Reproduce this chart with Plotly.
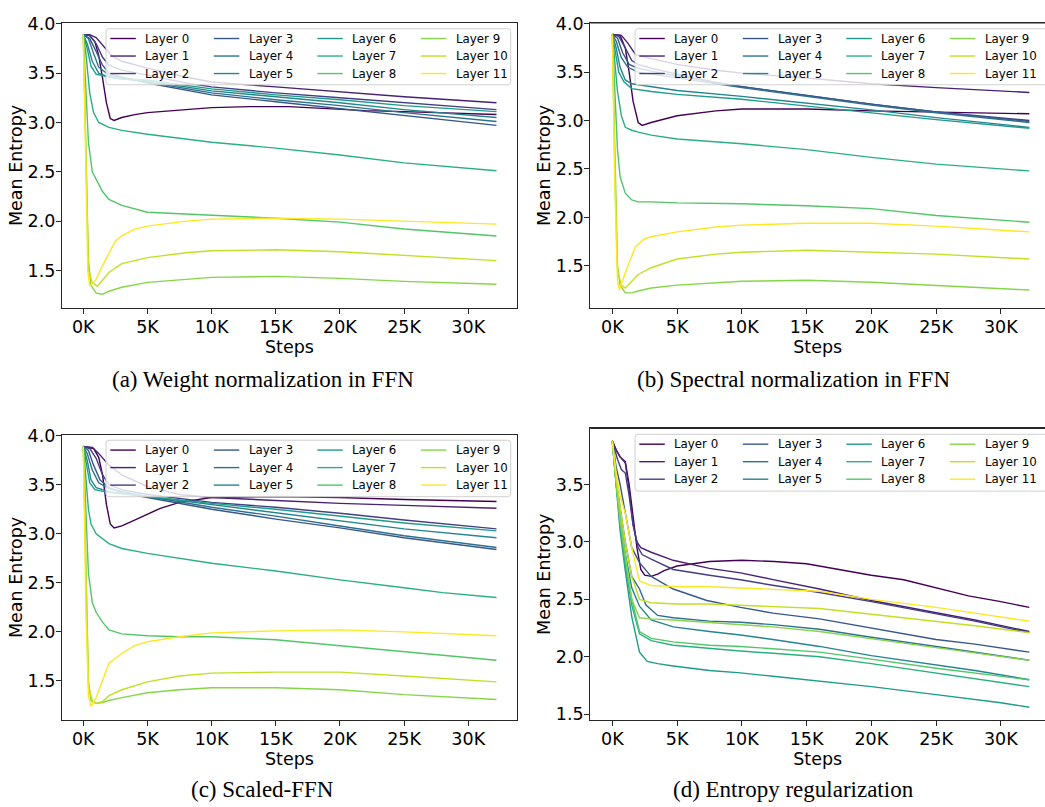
import plotly.graph_objects as go

# ---------------- data (steps in thousands, mean entropy) ----------------
LAYER_NAMES = [f"Layer {i}" for i in range(12)]
LAYER_COLORS = ['#440154', '#482173', '#433e85', '#38588c', '#2d708e', '#25858e',
                '#1e9b8a', '#2ab07f', '#52c569', '#86d549', '#c2df23', '#fde725']
CAPTIONS = ["(a) Weight normalization in FFN", "(b) Spectral normalization in FFN",
            "(c) Scaled-FFN", "(d) Entropy regularization"]
X_TICKS = [0, 5, 10, 15, 20, 25, 30]
X_TICK_TEXT = ["0K", "5K", "10K", "15K", "20K", "25K", "30K"]
Y_TICKS = [1.5, 2.0, 2.5, 3.0, 3.5, 4.0]

# (a) Weight normalization in FFN
a_L0 = [(0, 3.89), (0.5, 3.88), (0.9, 3.82), (1.2, 3.68), (1.5, 3.45), (1.8, 3.2), (2.1, 3.04), (2.4, 3.02), (3, 3.05), (4, 3.08), (5, 3.10), (7, 3.12), (10, 3.15), (13, 3.16), (16, 3.16), (19, 3.14), (22, 3.12), (25, 3.11), (28, 3.10), (32.2, 3.08)]
a_L1 = [(0, 3.89), (0.5, 3.89), (1, 3.86), (1.5, 3.78), (2.2, 3.68), (3, 3.62), (5, 3.55), (8, 3.46), (10, 3.41), (15, 3.36), (20, 3.31), (25, 3.26), (32.2, 3.20)]
a_L2 = [(0, 3.89), (0.5, 3.88), (1, 3.8), (1.5, 3.66), (2, 3.58), (3, 3.53), (5, 3.48), (8, 3.40), (10, 3.36), (15, 3.30), (20, 3.25), (25, 3.20), (32.2, 3.13)]
a_L3 = [(0, 3.89), (0.5, 3.85), (1, 3.72), (1.5, 3.58), (2, 3.50), (3, 3.46), (5, 3.40), (10, 3.28), (15, 3.21), (20, 3.14), (25, 3.07), (32.2, 2.97)]
a_L4 = [(0, 3.89), (0.4, 3.85), (0.8, 3.7), (1.2, 3.56), (2, 3.48), (3, 3.45), (5, 3.41), (10, 3.30), (15, 3.23), (20, 3.17), (25, 3.10), (32.2, 3.01)]
a_L5 = [(0, 3.89), (0.3, 3.8), (0.7, 3.62), (1.2, 3.5), (2, 3.46), (3, 3.44), (5, 3.42), (10, 3.32), (15, 3.26), (20, 3.20), (25, 3.13), (32.2, 3.05)]
a_L6 = [(0, 3.89), (0.3, 3.75), (0.6, 3.57), (1, 3.49), (2, 3.46), (3, 3.44), (5, 3.43), (10, 3.34), (15, 3.28), (20, 3.23), (25, 3.17), (32.2, 3.11)]
a_L7 = [(0, 3.89), (0.2, 3.7), (0.5, 3.3), (0.8, 3.1), (1.2, 3.0), (2, 2.95), (3, 2.92), (5, 2.88), (10, 2.80), (15, 2.74), (20, 2.67), (25, 2.59), (32.2, 2.51)]
a_L8 = [(0, 3.89), (0.2, 3.4), (0.4, 2.8), (0.7, 2.5), (1, 2.42), (1.5, 2.3), (2, 2.22), (3, 2.16), (5, 2.09), (10, 2.06), (15, 2.03), (20, 1.99), (25, 1.92), (32.2, 1.85)]
a_L9 = [(0, 3.89), (0.2, 2.8), (0.4, 1.6), (0.6, 1.35), (1, 1.27), (1.5, 1.26), (2, 1.29), (3, 1.33), (5, 1.38), (8, 1.41), (10, 1.43), (15, 1.44), (20, 1.42), (25, 1.39), (32.2, 1.36)]
a_L10 = [(0, 3.89), (0.2, 2.6), (0.4, 1.5), (0.7, 1.38), (1.1, 1.34), (2, 1.48), (3, 1.57), (5, 1.63), (8, 1.68), (10, 1.70), (15, 1.71), (20, 1.69), (25, 1.65), (32.2, 1.60)]
a_L11 = [(0, 3.89), (0.2, 2.3), (0.35, 1.5), (0.5, 1.34), (1, 1.41), (1.5, 1.55), (2, 1.68), (2.5, 1.80), (3, 1.85), (4, 1.92), (5, 1.95), (8, 2.0), (10, 2.02), (15, 2.03), (20, 2.02), (25, 2.0), (32.2, 1.97)]

# (b) Spectral normalization in FFN
b_L0 = [(0, 3.89), (0.6, 3.88), (1.0, 3.75), (1.3, 3.5), (1.6, 3.2), (2.0, 2.98), (2.3, 2.95), (3, 2.98), (5, 3.05), (8, 3.10), (10, 3.12), (15, 3.12), (20, 3.10), (25, 3.09), (32.2, 3.07)]
b_L1 = [(0, 3.89), (0.7, 3.88), (1.2, 3.8), (1.8, 3.68), (3, 3.64), (5, 3.58), (8, 3.52), (10, 3.49), (15, 3.44), (20, 3.38), (25, 3.34), (32.2, 3.29)]
b_L2 = [(0, 3.89), (0.5, 3.87), (1, 3.75), (1.5, 3.62), (2, 3.58), (3, 3.54), (5, 3.48), (8, 3.39), (10, 3.35), (15, 3.26), (20, 3.17), (25, 3.09), (32.2, 3.0)]
b_L3 = [(0, 3.89), (0.4, 3.85), (0.8, 3.7), (1.3, 3.58), (2, 3.54), (3, 3.51), (5, 3.46), (8, 3.39), (10, 3.35), (15, 3.26), (20, 3.17), (25, 3.09), (32.2, 2.99)]
b_L4 = [(0, 3.89), (0.3, 3.82), (0.7, 3.65), (1.2, 3.55), (2, 3.5), (5, 3.44), (10, 3.34), (15, 3.25), (20, 3.16), (25, 3.08), (32.2, 2.98)]
b_L5 = [(0, 3.89), (0.3, 3.75), (0.6, 3.55), (1, 3.42), (1.5, 3.38), (3, 3.35), (5, 3.31), (10, 3.25), (15, 3.18), (20, 3.11), (25, 3.03), (32.2, 2.93)]
b_L6 = [(0, 3.89), (0.25, 3.7), (0.5, 3.5), (0.9, 3.4), (1.5, 3.33), (3, 3.30), (5, 3.27), (10, 3.22), (15, 3.15), (20, 3.08), (25, 3.01), (32.2, 2.92)]
b_L7 = [(0, 3.89), (0.2, 3.6), (0.4, 3.3), (0.7, 3.05), (1, 2.93), (1.5, 2.9), (2, 2.88), (3, 2.85), (5, 2.81), (10, 2.76), (15, 2.70), (20, 2.62), (25, 2.55), (32.2, 2.48)]
b_L8 = [(0, 3.89), (0.2, 3.3), (0.4, 2.7), (0.6, 2.42), (1, 2.25), (1.5, 2.18), (2, 2.16), (3, 2.16), (5, 2.15), (10, 2.14), (15, 2.12), (20, 2.09), (25, 2.02), (32.2, 1.95)]
b_L9 = [(0, 3.89), (0.2, 2.6), (0.4, 1.5), (0.6, 1.3), (1, 1.22), (1.5, 1.22), (2, 1.24), (3, 1.27), (5, 1.30), (10, 1.34), (15, 1.35), (20, 1.33), (25, 1.30), (32.2, 1.25)]
b_L10 = [(0, 3.89), (0.2, 2.4), (0.4, 1.45), (0.7, 1.3), (1, 1.27), (1.5, 1.34), (2, 1.41), (3, 1.48), (5, 1.57), (8, 1.62), (10, 1.64), (15, 1.66), (20, 1.64), (25, 1.62), (32.2, 1.57)]
b_L11 = [(0, 3.89), (0.2, 2.3), (0.4, 1.35), (0.55, 1.25), (0.8, 1.35), (1.2, 1.5), (1.8, 1.7), (2.5, 1.78), (3, 1.8), (5, 1.85), (8, 1.9), (10, 1.92), (15, 1.94), (20, 1.94), (25, 1.91), (32.2, 1.85)]

# (c) Scaled-FFN
c_L0 = [(0, 3.89), (0.8, 3.87), (1.2, 3.78), (1.5, 3.6), (1.8, 3.3), (2.1, 3.1), (2.4, 3.06), (3, 3.08), (4, 3.14), (5, 3.2), (6, 3.26), (7.5, 3.32), (10, 3.37), (15, 3.38), (20, 3.37), (25, 3.35), (32.2, 3.33)]
c_L1 = [(0, 3.89), (0.7, 3.88), (1.2, 3.82), (2, 3.7), (3, 3.6), (5, 3.48), (7.5, 3.4), (10, 3.37), (15, 3.34), (20, 3.31), (25, 3.29), (32.2, 3.26)]
c_L2 = [(0, 3.89), (0.5, 3.87), (1, 3.77), (1.5, 3.6), (2, 3.5), (3, 3.45), (5, 3.4), (10, 3.32), (15, 3.27), (20, 3.21), (25, 3.14), (32.2, 3.05)]
c_L3 = [(0, 3.89), (0.4, 3.85), (0.8, 3.7), (1.3, 3.55), (2, 3.47), (3, 3.42), (5, 3.37), (10, 3.25), (15, 3.15), (20, 3.06), (25, 2.96), (32.2, 2.84)]
c_L4 = [(0, 3.89), (0.3, 3.82), (0.7, 3.65), (1.2, 3.52), (2, 3.46), (5, 3.38), (10, 3.27), (15, 3.18), (20, 3.08), (25, 2.98), (32.2, 2.86)]
c_L5 = [(0, 3.89), (0.3, 3.75), (0.6, 3.55), (1, 3.47), (2, 3.43), (5, 3.38), (10, 3.3), (15, 3.21), (20, 3.13), (25, 3.05), (32.2, 2.96)]
c_L6 = [(0, 3.89), (0.25, 3.7), (0.5, 3.52), (0.9, 3.45), (2, 3.42), (5, 3.38), (10, 3.31), (15, 3.25), (20, 3.18), (25, 3.11), (32.2, 3.03)]
c_L7 = [(0, 3.89), (0.2, 3.6), (0.4, 3.25), (0.6, 3.1), (1, 3.0), (2, 2.9), (3, 2.85), (5, 2.8), (7.5, 2.75), (10, 2.70), (15, 2.62), (20, 2.53), (25, 2.45), (28, 2.4), (32.2, 2.35)]
c_L8 = [(0, 3.89), (0.2, 3.2), (0.4, 2.6), (0.7, 2.3), (1, 2.2), (1.5, 2.1), (2, 2.02), (3, 1.98), (5, 1.96), (7.5, 1.95), (10, 1.95), (15, 1.92), (20, 1.86), (25, 1.80), (32.2, 1.71)]
c_L9 = [(0, 3.89), (0.2, 2.6), (0.4, 1.5), (0.6, 1.3), (1, 1.27), (1.5, 1.28), (2, 1.30), (3, 1.33), (5, 1.38), (7.5, 1.41), (10, 1.43), (15, 1.43), (20, 1.41), (25, 1.36), (32.2, 1.31)]
c_L10 = [(0, 3.89), (0.2, 2.5), (0.4, 1.45), (0.7, 1.3), (1, 1.27), (1.5, 1.29), (2, 1.35), (3, 1.41), (5, 1.49), (7.5, 1.55), (10, 1.58), (15, 1.59), (20, 1.59), (25, 1.55), (32.2, 1.49)]
c_L11 = [(0, 3.89), (0.2, 2.2), (0.4, 1.35), (0.6, 1.24), (1, 1.33), (1.5, 1.5), (2, 1.68), (3, 1.78), (4, 1.86), (5, 1.90), (7.5, 1.95), (10, 1.99), (15, 2.01), (20, 2.02), (25, 2.0), (32.2, 1.96)]

# (d) Entropy regularization
d_L0 = [(0, 3.88), (0.3, 3.8), (0.6, 3.74), (1.0, 3.7), (1.3, 3.5), (1.6, 3.2), (1.9, 2.95), (2.2, 2.76), (2.5, 2.71), (3.0, 2.70), (3.5, 2.72), (4, 2.75), (5, 2.79), (7.5, 2.83), (10, 2.84), (12.5, 2.83), (15, 2.81), (17.5, 2.76), (20, 2.71), (22.5, 2.67), (25, 2.60), (27.5, 2.53), (30, 2.48), (32.2, 2.43)]
d_L1 = [(0, 3.88), (0.3, 3.8), (0.6, 3.74), (1.0, 3.69), (1.3, 3.45), (1.6, 3.15), (1.9, 3.0), (2.2, 2.95), (3, 2.91), (4.7, 2.84), (7.5, 2.77), (9.9, 2.73), (12.5, 2.67), (16, 2.59), (20, 2.49), (25, 2.38), (28, 2.32), (32.2, 2.22)]
d_L2 = [(0, 3.88), (0.4, 3.72), (0.7, 3.63), (1, 3.6), (1.3, 3.4), (1.6, 3.15), (2.0, 2.95), (2.3, 2.89), (3, 2.85), (4.7, 2.76), (7.5, 2.71), (9.9, 2.67), (12.5, 2.62), (16, 2.56), (20, 2.48), (25, 2.37), (28, 2.31), (32.2, 2.21)]
d_L3 = [(0, 3.88), (0.3, 3.65), (0.6, 3.5), (1, 3.25), (1.5, 2.95), (2.1, 2.82), (3, 2.7), (4.7, 2.59), (7.3, 2.49), (9.9, 2.43), (12.4, 2.38), (16, 2.33), (20, 2.25), (25, 2.15), (28, 2.11), (32.2, 2.04)]
d_L4 = [(0, 3.88), (0.3, 3.55), (0.6, 3.3), (1, 3.0), (1.5, 2.7), (2.1, 2.59), (2.6, 2.45), (3.5, 2.36), (4.7, 2.34), (7.5, 2.31), (9.9, 2.30), (12.4, 2.28), (16, 2.24), (20, 2.17), (25, 2.09), (32.2, 1.97)]
d_L5 = [(0, 3.88), (0.3, 3.5), (0.6, 3.2), (1, 2.9), (1.5, 2.6), (2.1, 2.44), (3, 2.32), (4.7, 2.26), (7.5, 2.22), (9.9, 2.19), (12.4, 2.15), (16, 2.09), (20, 2.01), (25, 1.93), (28, 1.88), (32.2, 1.80)]
d_L6 = [(0, 3.88), (0.3, 3.45), (0.6, 3.1), (1, 2.75), (1.5, 2.35), (2.1, 2.04), (2.7, 1.96), (3.5, 1.94), (4.7, 1.92), (7.5, 1.88), (9.9, 1.86), (12.4, 1.83), (16, 1.79), (20, 1.74), (25, 1.67), (30, 1.60), (32.2, 1.56)]
d_L7 = [(0, 3.88), (0.3, 3.5), (0.6, 3.15), (1, 2.8), (1.5, 2.45), (2.1, 2.2), (3, 2.14), (4.7, 2.1), (7.5, 2.07), (9.9, 2.05), (12.4, 2.03), (16, 2.0), (20, 1.94), (25, 1.86), (32.2, 1.74)]
d_L8 = [(0, 3.88), (0.3, 3.52), (0.6, 3.18), (1, 2.85), (1.5, 2.5), (2.1, 2.22), (3, 2.16), (4.7, 2.13), (7.5, 2.10), (9.9, 2.09), (12.4, 2.07), (16, 2.04), (20, 1.98), (25, 1.90), (32.2, 1.80)]
d_L9 = [(0, 3.88), (0.3, 3.5), (0.6, 3.2), (1, 2.9), (1.5, 2.5), (2.1, 2.34), (3, 2.33), (4.7, 2.32), (7.5, 2.30), (9.9, 2.28), (12.4, 2.26), (16, 2.22), (20, 2.16), (25, 2.08), (32.2, 1.97)]
d_L10 = [(0, 3.88), (0.3, 3.55), (0.6, 3.3), (1, 3.0), (1.5, 2.7), (2.1, 2.5), (3, 2.47), (5, 2.46), (7.5, 2.46), (9.9, 2.45), (12.4, 2.44), (16, 2.42), (20, 2.37), (25, 2.31), (28, 2.27), (32.2, 2.21)]
d_L11 = [(0, 3.88), (0.3, 3.6), (0.6, 3.4), (1, 3.25), (1.5, 2.95), (2.1, 2.66), (3, 2.62), (5, 2.61), (7.5, 2.61), (9.9, 2.60), (12.4, 2.59), (16, 2.57), (20, 2.50), (25, 2.43), (28, 2.38), (32.2, 2.31)]

PANEL_SERIES = [
    [a_L0, a_L1, a_L2, a_L3, a_L4, a_L5, a_L6, a_L7, a_L8, a_L9, a_L10, a_L11],
    [b_L0, b_L1, b_L2, b_L3, b_L4, b_L5, b_L6, b_L7, b_L8, b_L9, b_L10, b_L11],
    [c_L0, c_L1, c_L2, c_L3, c_L4, c_L5, c_L6, c_L7, c_L8, c_L9, c_L10, c_L11],
    [d_L0, d_L1, d_L2, d_L3, d_L4, d_L5, d_L6, d_L7, d_L8, d_L9, d_L10, d_L11],
]

# ---------------- layout geometry (pixels in a 1045 x 807 canvas) ----------------
W, H = 1045, 807


def px(x):
    return x / W


def py(y):
    return 1 - y / H


PANELS = [
    dict(l=62, r=517, t=14, b=304, xr=[-1.66, 33.80], yr=[1.119, 4.01], mirror_y=True,
         leg=dict(l=106, r=510.7, t=20, b=77), cap=(262.5, 376.3)),
    dict(l=590.3, r=1045, t=14, b=304, xr=[-1.70, 33.41], yr=[1.063, 4.01], mirror_y=False,
         leg=dict(l=635, r=1060, t=20, b=77), cap=(793.3, 376.3)),
    dict(l=62, r=517, t=432.7, b=722.7, xr=[-1.66, 33.80], yr=[1.101, 4.01], mirror_y=True,
         leg=dict(l=106, r=510.7, t=438.3, b=495.7), cap=(262.5, 793.3)),
    dict(l=590.3, r=1045, t=426.3, b=722.7, xr=[-1.70, 33.41], yr=[1.449, 3.988], mirror_y=False,
         leg=dict(l=635, r=1060, t=432.3, b=490), cap=(793.3, 793.3)),
]

AX_COLOR = '#262626'
TICK_FONT = dict(family='DejaVu Sans', size=17.5, color='black')

fig = go.Figure()
shapes = []
annotations = []

for p, (panel, series) in enumerate(zip(PANELS, PANEL_SERIES)):
    suffix = '' if p == 0 else str(p + 1)
    xref, yref = 'x' + suffix, 'y' + suffix
    for i, pts in enumerate(series):
        fig.add_trace(go.Scatter(
            x=[s for s, _ in pts], y=[v for _, v in pts], mode='lines',
            name=LAYER_NAMES[i], line=dict(color=LAYER_COLORS[i], width=1.4),
            xaxis=xref, yaxis=yref, showlegend=False, hoverinfo='skip'))

    fig.layout['xaxis' + suffix] = dict(
        domain=[px(panel['l']), px(panel['r'])], range=panel['xr'], anchor=yref,
        tickvals=X_TICKS, ticktext=X_TICK_TEXT, showline=True, mirror=True,
        linecolor=AX_COLOR, linewidth=1.3, ticks='outside', ticklen=5, tickwidth=1.2,
        tickcolor=AX_COLOR, showgrid=False, zeroline=False, tickfont=TICK_FONT,
        ticklabelstandoff=-2,
        title=dict(text='Steps', font=TICK_FONT, standoff=0))
    fig.layout['yaxis' + suffix] = dict(
        domain=[py(panel['b']), py(panel['t'])], range=panel['yr'], anchor=xref,
        tickvals=Y_TICKS, tickformat='.1f', showline=True, mirror=panel['mirror_y'],
        linecolor=AX_COLOR, linewidth=1.3, ticks='outside', ticklen=5, tickwidth=1.2,
        tickcolor=AX_COLOR, showgrid=False, zeroline=False, tickfont=TICK_FONT,
        ticklabelstandoff=-3,
        title=dict(text='Mean Entropy', font=TICK_FONT, standoff=0))
    if not panel['mirror_y']:
        # top spine only (the right spine is cut off by the canvas edge)
        shapes.append(dict(type='line', xref='paper', yref='paper', layer='above',
                           x0=px(panel['l']), x1=1.02, y0=py(panel['t']), y1=py(panel['t']),
                           line=dict(color=AX_COLOR, width=1.3)))

    # legend frame (semi-transparent, rounded corners)
    lg = panel['leg']
    rx, ry = 3 / W, 3 / H
    x0, x1, y0, y1 = px(lg['l']), px(lg['r']), py(lg['b']), py(lg['t'])
    path = (f"M {x0 + rx},{y1} L {x1 - rx},{y1} Q {x1},{y1} {x1},{y1 - ry} "
            f"L {x1},{y0 + ry} Q {x1},{y0} {x1 - rx},{y0} L {x0 + rx},{y0} "
            f"Q {x0},{y0} {x0},{y0 + ry} L {x0},{y1 - ry} Q {x0},{y1} {x0 + rx},{y1} Z")
    shapes.append(dict(type='path', path=path, xref='paper', yref='paper', layer='above',
                       fillcolor='rgba(255,255,255,0.8)', line=dict(color='#d0d0d0', width=1)))
    row0 = lg['t'] + 10
    for i in range(12):
        col, row = divmod(i, 3)
        lx = lg['l'] + 4.3 + col * 103.5
        ly = row0 + row * 17.8
        shapes.append(dict(type='line', xref='paper', yref='paper', layer='above',
                           x0=px(lx), x1=px(lx + 25.5), y0=py(ly), y1=py(ly),
                           line=dict(color=LAYER_COLORS[i], width=1.4)))
        annotations.append(dict(text=LAYER_NAMES[i], xref='paper', yref='paper',
                                x=px(lx + 34), y=py(ly), xanchor='left', yanchor='middle',
                                showarrow=False, borderpad=0,
                                font=dict(family='DejaVu Sans', size=11.8, color='black')))

    cx, cy = panel['cap']
    annotations.append(dict(text=CAPTIONS[p], xref='paper', yref='paper', x=px(cx), y=py(cy),
                            xanchor='center', yanchor='middle', showarrow=False,
                            font=dict(family='Liberation Serif', size=23, color='black')))

fig.update_layout(width=W, height=H, margin=dict(l=0, r=0, t=0, b=0),
                  paper_bgcolor='white', plot_bgcolor='white', showlegend=False,
                  shapes=shapes, annotations=annotations)

PIN_TOP_LEFT = (
    "document.body.style.margin='0';document.body.style.padding='0';"
    "document.body.style.overflow='hidden';"
    "var el=document.getElementById('{plot_id}');"
    "el.style.position='absolute';el.style.left='0px';el.style.top='0px';"
)
fig.write_html("out.html", config={'displayModeBar': False}, post_script=PIN_TOP_LEFT)
